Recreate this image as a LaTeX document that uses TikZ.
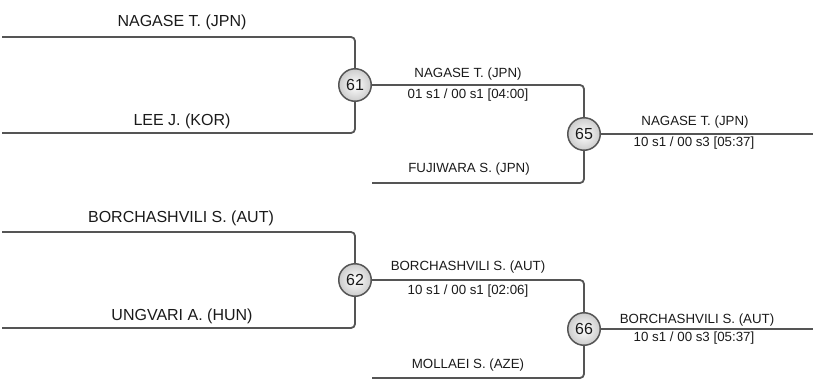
\documentclass[tikz,border=0pt]{standalone}
\usepackage{fontspec}
\setmainfont{Liberation Sans}
\definecolor{bracket}{HTML}{555555}
\definecolor{ink}{HTML}{1A1A1A}

\begin{document}
\begin{tikzpicture}[x=1pt, y=-1pt,
    bout/.style={circle, draw=bracket, line width=1.5pt, minimum size=32.5pt, inner sep=0pt,
                 inner color=white, outer color=gray!40, text=ink,
                 font=\fontsize{16}{19}\selectfont},
    player/.style={anchor=base, text=ink, inner sep=0pt, font=\fontsize{16}{19}\selectfont},
    result/.style={anchor=base, text=ink, inner sep=0pt, font=\fontsize{13.3}{16}\selectfont},
    wire/.style={draw=bracket, line width=1.8pt, rounded corners=4pt}]
    \useasboundingbox (0,0) rectangle (813,383);
    % bouts
    \node[bout] (b61) at (355,85) {61};
    \node[bout] (b62) at (355,280) {62};
    \node[bout] (b65) at (584,134) {65};
    \node[bout] (b66) at (584,329) {66};
    % loose ends
    \coordinate (s1) at (2,37);
    \coordinate (s2) at (2,133);
    \coordinate (s3) at (2,232);
    \coordinate (s4) at (2,328);
    \coordinate (s5) at (372,183);
    \coordinate (s6) at (372,378);
    \coordinate (e65) at (813,134);
    \coordinate (e66) at (813,329);
    % bracket lines
    \draw[wire] (s1) -- (b61 |- s1) -- (b61);
    \draw[wire] (s2) -- (b61 |- s2) -- (b61);
    \draw[wire] (s3) -- (b62 |- s3) -- (b62);
    \draw[wire] (s4) -- (b62 |- s4) -- (b62);
    \draw[wire] (b61) -- (b65 |- b61) -- (b65);
    \draw[wire] (s5) -- (b65 |- s5) -- (b65);
    \draw[wire] (b62) -- (b66 |- b62) -- (b66);
    \draw[wire] (s6) -- (b66 |- s6) -- (b66);
    \draw[wire] (b65) -- (e65);
    \draw[wire] (b66) -- (e66);
    % names and scores
    \node[player] (p1) at (182,26) {NAGASE T. (JPN)};
    \node[player] (p2) at (182,125) {LEE J. (KOR)};
    \node[player] (p3) at (181,222) {BORCHASHVILI S. (AUT)};
    \node[player] (p4) at (182,320) {UNGVARI A. (HUN)};
    \node[result] (w61) at (468,77) {NAGASE T. (JPN)};
    \node[result] (r61) at (468,98) {01 s1 / 00 s1 [04:00]};
    \node[result] (p5) at (469,172) {FUJIWARA S. (JPN)};
    \node[result] (w62) at (468,270) {BORCHASHVILI S. (AUT)};
    \node[result] (r62) at (468,294) {10 s1 / 00 s1 [02:06]};
    \node[result] (p6) at (468,368) {MOLLAEI S. (AZE)};
    \node[result] (w65) at (695,125) {NAGASE T. (JPN)};
    \node[result] (r65) at (694,146) {10 s1 / 00 s3 [05:37]};
    \node[result] (w66) at (697,323) {BORCHASHVILI S. (AUT)};
    \node[result] (r66) at (694,341) {10 s1 / 00 s3 [05:37]};
\end{tikzpicture}
\end{document}
